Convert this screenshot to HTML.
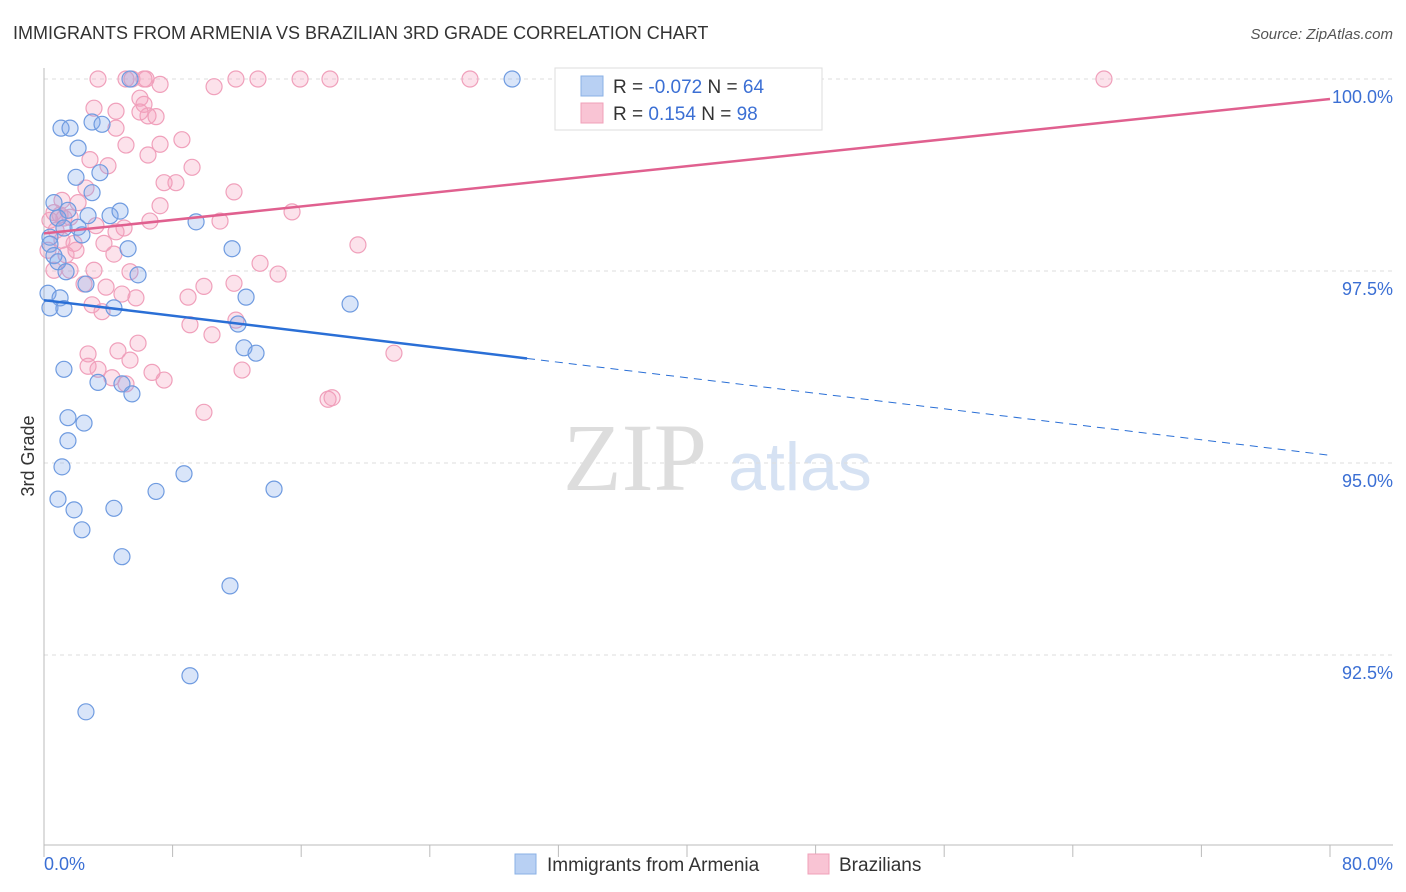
<!DOCTYPE html>
<html><head><meta charset="utf-8">
<style>
body{margin:0;background:#fff;font-family:"Liberation Sans",sans-serif;}
svg{display:block}
</style></head>
<body>
<svg id="chart" width="1406" height="892">
<text x="13" y="39" font-size="18" fill="#333">IMMIGRANTS FROM ARMENIA VS BRAZILIAN 3RD GRADE CORRELATION CHART</text>
<text x="1393" y="39" font-size="15" fill="#555" font-style="italic" text-anchor="end">Source: ZipAtlas.com</text>
<text x="635" y="490" font-size="96" fill="#ddd" text-anchor="middle" font-family="Liberation Serif,serif">ZIP</text>
<text x="800" y="490" font-size="68" fill="#d6e2f3" text-anchor="middle">atlas</text>
<text transform="translate(34,456) rotate(-90)" font-size="18" fill="#333" text-anchor="middle">3rd Grade</text>
<g id="grid"></g><g id="axes"></g><g id="marks"></g>
<g>
<rect x="555" y="68" width="267" height="62" fill="#fff" stroke="#ddd"/>
<rect x="581" y="76" width="22" height="20" fill="#b8d0f3" stroke="#8ab0e6"/>
<rect x="581" y="103" width="22" height="20" fill="#f9c4d4" stroke="#f0a0b9"/>
<text x="613" y="93" font-size="19" fill="#333">R = <tspan fill="#3b6fd4">-0.072</tspan>   N = <tspan fill="#3b6fd4">64</tspan></text>
<text x="613" y="120" font-size="19" fill="#333">R =   <tspan fill="#3b6fd4">0.154</tspan>   N = <tspan fill="#3b6fd4">98</tspan></text>
</g>
<g>
<rect x="515" y="854" width="21" height="20" fill="#b8d0f3" stroke="#8ab0e6"/>
<text x="547" y="871" font-size="19" fill="#333">Immigrants from Armenia</text>
<rect x="808" y="854" width="21" height="20" fill="#f9c4d4" stroke="#f0a0b9"/>
<text x="839" y="871" font-size="19" fill="#333">Brazilians</text>
</g>
</svg>
<script>
const blueX=[5.35,29.12,1.06,1.62,2.99,3.61,2.12,1.99,3.48,2.99,0.62,1.49,4.11,4.73,9.46,0.87,2.74,1.24,2.12,2.36,0.37,0.37,5.23,11.70,0.62,0.87,1.37,5.85,2.61,0.25,1.00,12.57,0.37,1.24,4.35,19.04,12.07,12.44,13.19,1.24,3.36,4.85,5.47,1.49,2.49,1.49,1.12,8.71,6.97,14.31,0.87,1.87,4.35,2.36,4.85,11.57,9.08,2.61];
const blueY=[100,100,99.36,99.36,99.44,99.41,99.10,98.72,98.78,98.52,98.39,98.29,98.22,98.28,98.14,98.19,98.22,98.06,98.07,97.97,97.94,97.85,97.79,97.79,97.70,97.62,97.49,97.45,97.33,97.21,97.15,97.16,97.02,97.01,97.02,97.07,96.81,96.50,96.43,96.22,96.05,96.03,95.90,95.59,95.52,95.29,94.95,94.86,94.63,94.66,94.53,94.39,94.41,94.13,93.78,93.40,92.23,91.76];
const pinkX=[3.36,5.10,5.47,6.22,6.35,7.22,10.58,11.94,13.31,15.93,17.79,26.50,65.94,5.97,3.11,4.48,6.22,6.47,5.97,6.97,4.48,8.58,5.10,7.22,6.47,2.86,3.98,9.21,7.47,8.21,2.61,11.82,1.12,2.12,7.22,0.62,1.00,1.62,15.43,6.59,10.95,3.23,4.98,4.48,1.12,1.87,3.73,19.53,1.99,1.37,4.35,13.44,0.62,1.62,3.11,5.35,14.56,2.49,3.86,4.85,5.72,9.95,11.82,8.96,2.99,3.61,11.94,9.08,10.45,5.85,2.74,4.60,5.35,21.77,2.74,3.36,12.32,6.72,7.47,4.23,5.10,17.67,17.92,9.95,0.25,0.37,0.75,1.24];
const pinkY=[100,100,100,100,100,99.93,99.90,100,100,100,100,100,100,99.75,99.62,99.58,99.67,99.52,99.57,99.51,99.36,99.21,99.14,99.15,99.01,98.95,98.87,98.85,98.65,98.65,98.58,98.53,98.42,98.39,98.35,98.26,98.23,98.20,98.27,98.15,98.15,98.09,98.06,98.01,97.90,97.86,97.86,97.84,97.77,97.71,97.72,97.60,97.51,97.51,97.51,97.49,97.46,97.33,97.29,97.20,97.15,97.30,97.34,97.16,97.06,96.97,96.86,96.80,96.67,96.56,96.42,96.46,96.34,96.43,96.26,96.22,96.21,96.18,96.08,96.11,96.03,95.83,95.85,95.66,97.77,98.16,98.03,98.19];
const yTicks=[100,97.5,95,92.5];
const yTickLabels=["100.0%","97.5%","95.0%","92.5%"];
const blueTrend=[97.12,95.10]; const blueSolidEnd=30.05;
const pinkTrend=[97.99,99.74];
const NS="http://www.w3.org/2000/svg";
const sx=v=>44+v/80*1286;
const sy=v=>79+(100-v)/2.5*192;
function mk(tag,attrs,parent){const e=document.createElementNS(NS,tag);for(const k in attrs)e.setAttribute(k,attrs[k]);parent.appendChild(e);return e;}
const grid=document.getElementById('grid'),axes=document.getElementById('axes'),marks=document.getElementById('marks');
yTicks.forEach((t,i)=>{
 const l=mk('line',{x1:44,x2:1393,y1:sy(t),y2:sy(t),stroke:'#ddd','stroke-dasharray':'4,4'},grid);
 
 
 const tx=mk('text',{x:1393,y:sy(t)+24,'font-size':18,fill:'#3b6fd4','text-anchor':'end'},grid);
 tx.textContent=yTickLabels[i];
 
 
});
let a=mk('line',{x1:44,x2:44,y1:68,y2:845,stroke:'#bbb'},axes);


a=mk('line',{x1:44,x2:1393,y1:845,y2:845,stroke:'#bbb'},axes);


for(let i=0;i<=10;i++){const t=mk('line',{x1:sx(i*8),x2:sx(i*8),y1:845,y2:857,stroke:'#bbb'},axes);
 
 }
let xl=mk('text',{x:44,y:870,'font-size':18,fill:'#3b6fd4'},axes);xl.textContent='0.0%';


xl=mk('text',{x:1393,y:870,'font-size':18,fill:'#3b6fd4','text-anchor':'end'},axes);xl.textContent='80.0%';


pinkX.forEach((x,i)=>{const c=mk('circle',{cx:sx(x),cy:sy(pinkY[i]),r:8,fill:'rgba(245,160,190,0.3)',stroke:'#f0a0bb','stroke-width':1.2},marks);
 
 });
blueX.forEach((x,i)=>{const c=mk('circle',{cx:sx(x),cy:sy(blueY[i]),r:8,fill:'rgba(130,170,235,0.3)',stroke:'#6f9be0','stroke-width':1.2},marks);
 
 });
const bAt=x=>blueTrend[0]+(blueTrend[1]-blueTrend[0])*x/80;
let tl=mk('line',{x1:sx(0),y1:sy(bAt(0)),x2:sx(blueSolidEnd),y2:sy(bAt(blueSolidEnd)),stroke:'#2a6fd6','stroke-width':2.5},marks);


tl=mk('line',{x1:sx(blueSolidEnd),y1:sy(bAt(blueSolidEnd)),x2:sx(80),y2:sy(bAt(80)),stroke:'#2a6fd6','stroke-width':1,'stroke-dasharray':'8,6'},marks);


tl=mk('line',{x1:sx(0),y1:sy(pinkTrend[0]),x2:sx(80),y2:sy(pinkTrend[1]),stroke:'#e0608f','stroke-width':2.5},marks);


</script>
</body></html>
